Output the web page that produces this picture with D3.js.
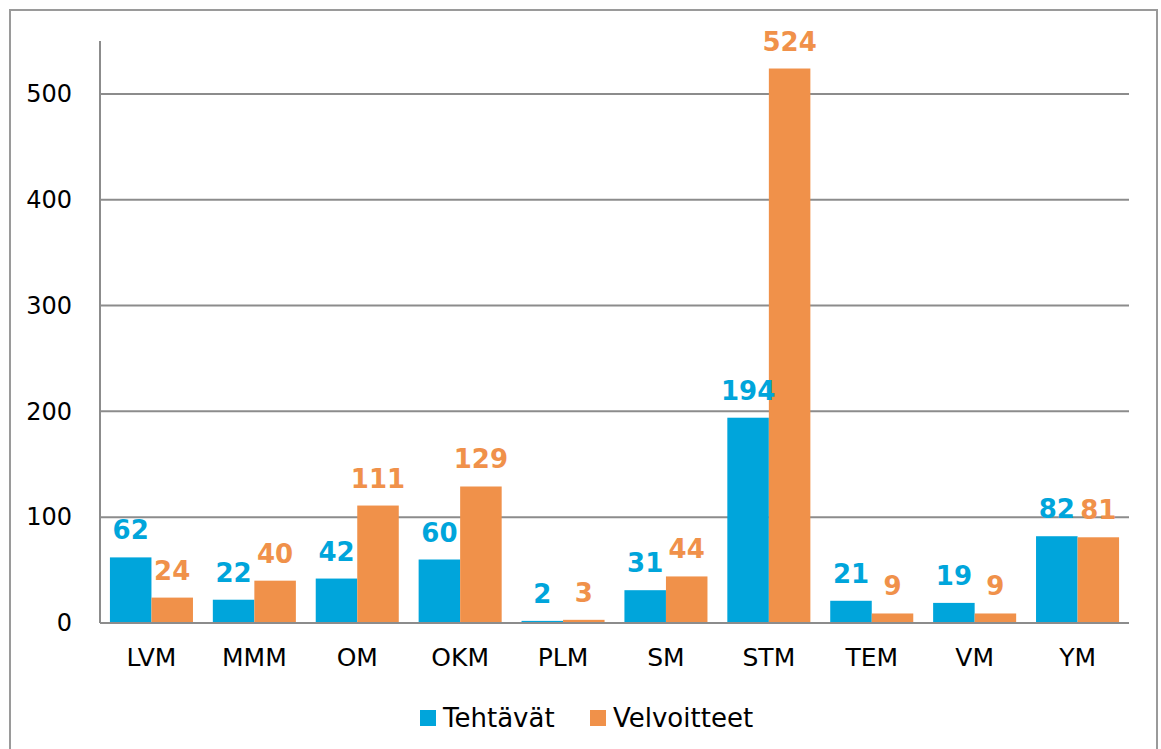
<!DOCTYPE html>
<html>
<head>
<meta charset="utf-8">
<script src="https://cdn.jsdelivr.net/npm/d3@7"></script>
<style>
  body { margin: 0; background: #fff; }
  text { font-family: "DejaVu Sans", sans-serif; }
</style>
</head>
<body>
<svg></svg>
<script>
// chart data
const categories = ["LVM", "MMM", "OM", "OKM", "PLM", "SM", "STM", "TEM", "VM", "YM"];
const tehtavat = [62, 22, 42, 60, 2, 31, 194, 21, 19, 82];
const velvoitteet = [24, 40, 111, 129, 3, 44, 524, 9, 9, 81];
const seriesNames = ["Tehtävät", "Velvoitteet"];
const colors = ["#00a5db", "#f0914a"];
const yTicks = [0, 100, 200, 300, 400, 500];

const svg = d3.select("svg").attr("width", 1161).attr("height", 749);

// outer frame
svg.append("rect")
  .attr("x", 10).attr("y", 10)
  .attr("width", 1147).attr("height", 760)
  .attr("fill", "none")
  .attr("stroke", "#9a9a9a")
  .attr("stroke-width", 2);

const margin = { top: 41, left: 100 };
const graphWidth = 1029;
const graphHeight = 582;

const graph = svg.append("g")
  .attr("transform", `translate(${margin.left}, ${margin.top})`);

const x = d3.scaleBand()
  .domain(categories)
  .range([0, graphWidth])
  .paddingInner(0.193)
  .paddingOuter(0.0965);

const xSub = d3.scaleBand()
  .domain(seriesNames)
  .range([0, x.bandwidth()]);

const y = d3.scaleLinear()
  .domain([0, 550])
  .range([graphHeight, 0]);

// gridlines
graph.append("g")
  .selectAll("line")
  .data(yTicks.filter(d => d > 0))
  .enter()
  .append("line")
  .attr("x1", 0).attr("x2", graphWidth)
  .attr("y1", d => y(d)).attr("y2", d => y(d))
  .attr("stroke", "#8c8c8c")
  .attr("stroke-width", 2);

// y axis labels
const yAxis = d3.axisLeft(y).tickValues(yTicks).tickSize(0).tickPadding(28);
const yAxisGroup = graph.append("g").call(yAxis);
yAxisGroup.select(".domain").remove();
yAxisGroup.selectAll("text")
  .style("font-size", "24px")
  .attr("fill", "#000");

// bars
const rows = categories.map((c, i) => ({ name: c, values: [tehtavat[i], velvoitteet[i]] }));

const groups = graph.selectAll(".grp")
  .data(rows)
  .enter()
  .append("g")
  .attr("class", "grp")
  .attr("transform", d => `translate(${x(d.name)}, 0)`);

groups.selectAll("rect")
  .data(d => d.values.map((v, k) => ({ key: seriesNames[k], v: v, k: k })))
  .enter()
  .append("rect")
  .attr("x", d => xSub(d.key))
  .attr("width", xSub.bandwidth())
  .attr("y", d => y(d.v))
  .attr("height", d => graphHeight - y(d.v))
  .attr("fill", d => colors[d.k]);

groups.selectAll(".val")
  .data(d => d.values.map((v, k) => ({ key: seriesNames[k], v: v, k: k })))
  .enter()
  .append("text")
  .attr("class", "val")
  .attr("x", d => xSub(d.key) + xSub.bandwidth() / 2)
  .attr("y", d => y(d.v) - 18)
  .attr("text-anchor", "middle")
  .style("font-size", "26px")
  .style("font-weight", "bold")
  .attr("fill", d => colors[d.k])
  .text(d => d.v);

// axis lines
graph.append("line")
  .attr("x1", 0).attr("x2", 0)
  .attr("y1", 0).attr("y2", graphHeight)
  .attr("stroke", "#8c8c8c")
  .attr("stroke-width", 2);
graph.append("line")
  .attr("x1", 0).attr("x2", graphWidth)
  .attr("y1", graphHeight).attr("y2", graphHeight)
  .attr("stroke", "#8c8c8c")
  .attr("stroke-width", 2);

// x axis labels
const xAxis = d3.axisBottom(x).tickSize(0).tickPadding(25);
const xAxisGroup = graph.append("g")
  .attr("transform", `translate(0, ${graphHeight})`)
  .call(xAxis);
xAxisGroup.select(".domain").remove();
xAxisGroup.selectAll("text")
  .style("font-size", "25px")
  .attr("fill", "#000");

// legend
const legendX = [420, 590];
const legend = svg.append("g");
seriesNames.forEach((name, i) => {
  legend.append("rect")
    .attr("x", legendX[i]).attr("y", 710)
    .attr("width", 16).attr("height", 16)
    .attr("fill", colors[i]);
  legend.append("text")
    .attr("x", legendX[i] + 23).attr("y", 727)
    .style("font-size", "26px")
    .attr("fill", "#000")
    .text(name);
});
</script>
</body>
</html>
